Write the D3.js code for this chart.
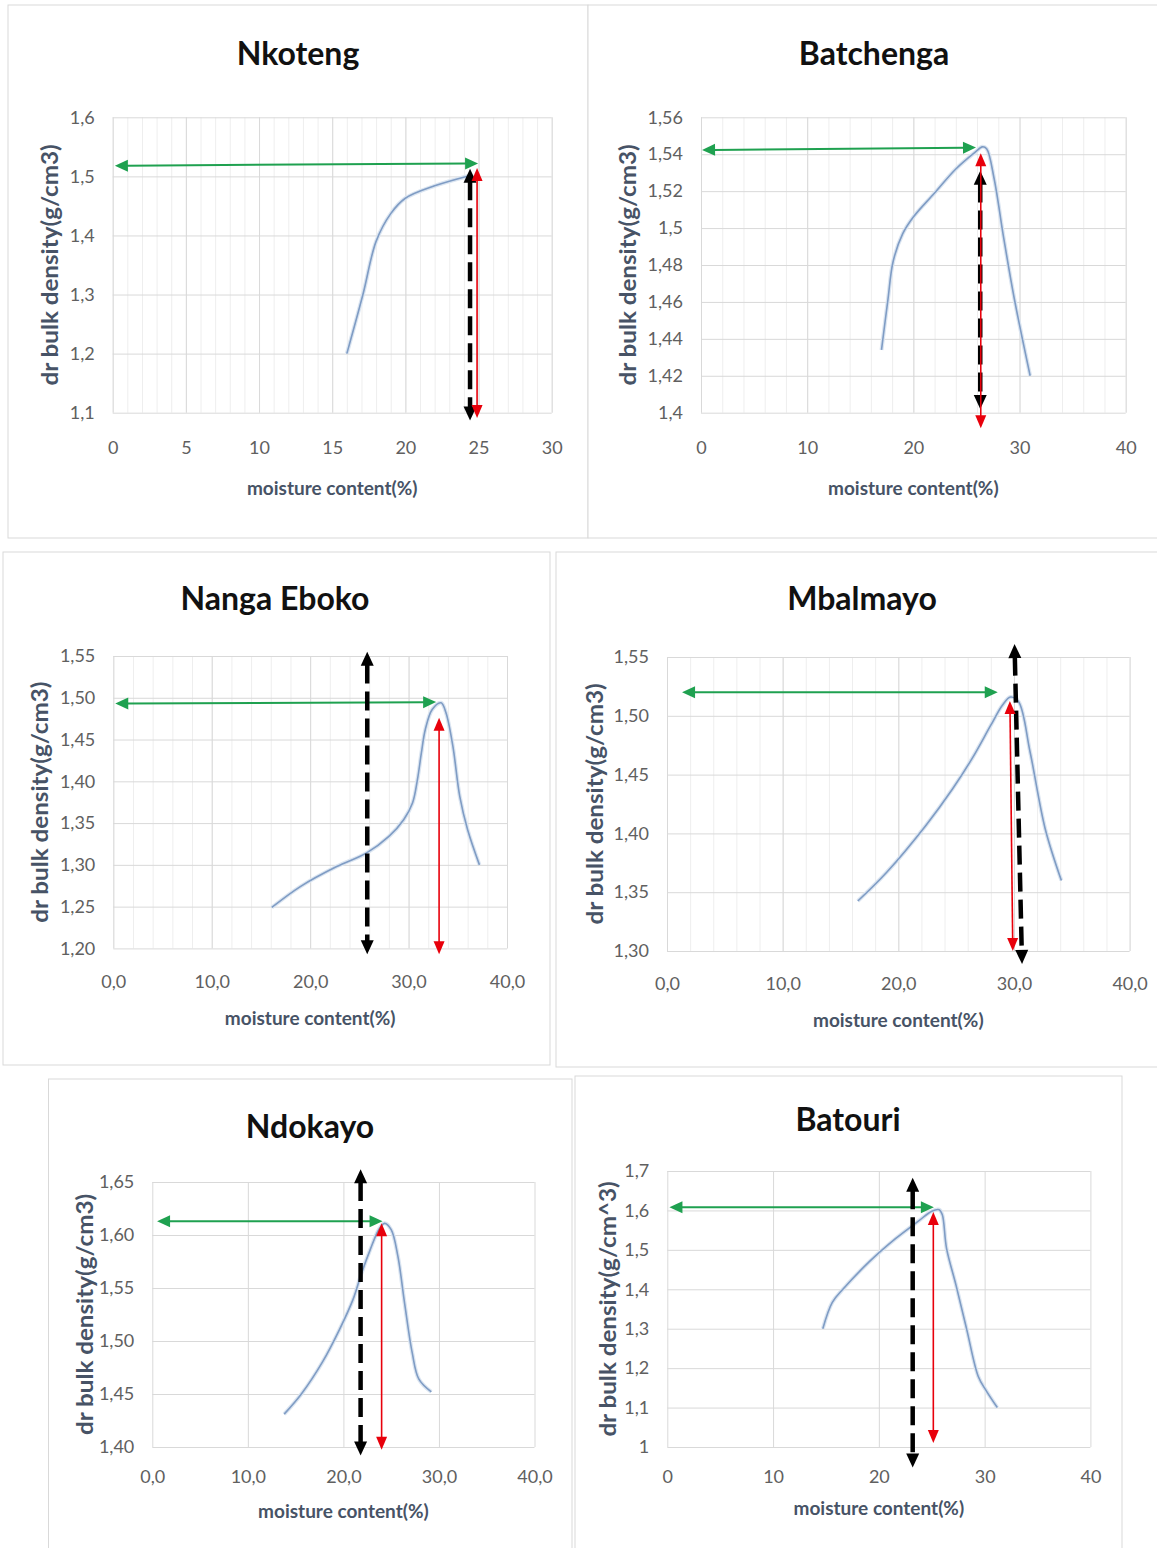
<!DOCTYPE html>
<html>
<head>
<meta charset="utf-8">
<title>Compaction curves</title>
<script src="https://cdn.jsdelivr.net/npm/d3@7"></script>
<style>
  body { margin: 0; background: #fff; }
  text { font-family: Lato, "Open Sans", sans-serif; }
</style>
</head>
<body>
<script>
// ---- data ----
var titles = ["Nkoteng", "Batchenga", "Nanga Eboko", "Mbalmayo", "Ndokayo", "Batouri"];
var xTitle = "moisture content(%)";
var yTitles = ["dr bulk density(g/cm3)", "dr bulk density(g/cm3)", "dr bulk density(g/cm3)",
               "dr bulk density(g/cm3)", "dr bulk density(g/cm3)", "dr bulk density(g/cm^3)"];

var nkotengMoisture = [16, 17.1, 18, 19, 20, 22, 24.5];
var nkotengDensity  = [1.2, 1.30, 1.39, 1.437, 1.463, 1.484, 1.502];

var batchengaMoisture = [17, 17.6, 18.1, 19, 20, 22, 24, 25.8, 26.5, 26.9, 27.6, 28.5, 29.5, 31];
var batchengaDensity  = [1.434, 1.461, 1.482, 1.497, 1.506, 1.519, 1.532, 1.541, 1.544, 1.543, 1.527, 1.495, 1.462, 1.42];

var ngaMoisture = [16.1, 19, 22.7, 25.7, 28, 29.5, 30.4, 30.9, 31.3, 31.7, 32.4, 33.3, 33.8, 34.5, 35.2, 36, 37.2];
var ngaDensity  = [1.249, 1.274, 1.298, 1.314, 1.334, 1.354, 1.374, 1.402, 1.434, 1.462, 1.486, 1.494, 1.482, 1.442, 1.382, 1.342, 1.30];

var mbalmayoMoisture = [16.5, 19, 22.4, 24.7, 26.4, 28, 29, 29.7, 30.4, 31.4, 32.7, 34.1];
var mbalmayoDensity  = [1.3425, 1.367, 1.407, 1.438, 1.464, 1.492, 1.509, 1.516, 1.512, 1.469, 1.404, 1.36];

var ndokayoMoisture = [13.8, 15.6, 17.8, 19.6, 21, 21.9, 22.8, 23.7, 24.3, 25, 25.7, 26.4, 27.2, 27.9, 29.2];
var ndokayoDensity  = [1.431, 1.45, 1.48, 1.511, 1.539, 1.564, 1.586, 1.605, 1.611, 1.605, 1.58, 1.536, 1.489, 1.464, 1.452];

var batouriMoisture = [14.7, 15.6, 16.6, 19.1, 21.6, 23.7, 25, 25.7, 26, 26.4, 27.3, 28.3, 29.4, 30.1, 31.2];
var batouriDensity  = [1.30, 1.367, 1.40, 1.47, 1.529, 1.572, 1.598, 1.602, 1.589, 1.504, 1.41, 1.299, 1.179, 1.145, 1.10];

var xTicksNkoteng   = ["0", "5", "10", "15", "20", "25", "30"];
var yTicksNkoteng   = ["1,1", "1,2", "1,3", "1,4", "1,5", "1,6"];
var xTicksBatchenga = ["0", "10", "20", "30", "40"];
var yTicksBatchenga = ["1,4", "1,42", "1,44", "1,46", "1,48", "1,5", "1,52", "1,54", "1,56"];
var xTicksNga       = ["0,0", "10,0", "20,0", "30,0", "40,0"];
var yTicksNga       = ["1,20", "1,25", "1,30", "1,35", "1,40", "1,45", "1,50", "1,55"];
var xTicksMbalmayo  = ["0,0", "10,0", "20,0", "30,0", "40,0"];
var yTicksMbalmayo  = ["1,30", "1,35", "1,40", "1,45", "1,50", "1,55"];
var xTicksNdokayo   = ["0,0", "10,0", "20,0", "30,0", "40,0"];
var yTicksNdokayo   = ["1,40", "1,45", "1,50", "1,55", "1,60", "1,65"];
var xTicksBatouri   = ["0", "10", "20", "30", "40"];
var yTicksBatouri   = ["1", "1,1", "1,2", "1,3", "1,4", "1,5", "1,6", "1,7"];

// arrows: [x1, y1, x2, y2] in data units, heads at both ends
var greenArrows = [[0.15, 1.518, 24.97, 1.522], [0.1, 1.5423, 25.9, 1.5436], [0.2, 1.493, 32.8, 1.4948],
                   [1.3, 1.520, 28.6, 1.520], [0.5, 1.613, 24.1, 1.613], [0.2, 1.608, 25.2, 1.608]];
var blackArrows = [[24.42, 1.513, 24.42, 1.087], [26.3, 1.531, 26.3, 1.402], [25.8, 1.555, 25.8, 1.193],
                   [30.05, 1.561, 30.7, 1.289], [21.8, 1.662, 21.8, 1.392], [23.2, 1.683, 23.2, 0.948]];
var redArrows   = [[24.9, 1.514, 24.9, 1.091], [26.35, 1.5405, 26.35, 1.3916], [33.1, 1.476, 33.1, 1.193],
                   [29.65, 1.5126, 29.9, 1.300], [24.0, 1.611, 24.0, 1.3975], [25.15, 1.596, 25.15, 1.010]];

// ---- layout ----
var width = 1157, height = 1548;
var layout = [
  { mc: nkotengMoisture, dd: nkotengDensity, xt: xTicksNkoteng, yt: yTicksNkoteng, minor: 1,
    frame: [8, 5, 588, 538], plot: [112.7, 117.3, 551.7, 412.7], tx: 298, ty: 65, xGap: 29, xTy: 495, yTx: 51 },
  { mc: batchengaMoisture, dd: batchengaDensity, xt: xTicksBatchenga, yt: yTicksBatchenga, minor: 2,
    frame: [588, 5, 1170, 538], plot: [701, 117.3, 1125.7, 412.7], tx: 874, ty: 65, xGap: 29, xTy: 495, yTx: 629 },
  { mc: ngaMoisture, dd: ngaDensity, xt: xTicksNga, yt: yTicksNga, minor: 2,
    frame: [3, 552, 550, 1065], plot: [113.3, 656, 507, 948.4], tx: 275, ty: 610, xGap: 27, xTy: 1025, yTx: 41 },
  { mc: mbalmayoMoisture, dd: mbalmayoDensity, xt: xTicksMbalmayo, yt: yTicksMbalmayo, minor: 2,
    frame: [556, 552, 1170, 1067], plot: [667, 657, 1129.6, 951], tx: 862, ty: 610, xGap: 26, xTy: 1027, yTx: 596 },
  { mc: ndokayoMoisture, dd: ndokayoDensity, xt: xTicksNdokayo, yt: yTicksNdokayo, minor: 0,
    frame: [48.5, 1079, 572, 1560], plot: [152.3, 1182, 534.5, 1447], tx: 310, ty: 1138, xGap: 23, xTy: 1518, yTx: 86 },
  { mc: batouriMoisture, dd: batouriDensity, xt: xTicksBatouri, yt: yTicksBatouri, minor: 0,
    frame: [575, 1076, 1122, 1560], plot: [667.3, 1171, 1090.4, 1447], tx: 848, ty: 1131, xGap: 23, xTy: 1515, yTx: 609 }
];

function num(s) { return +s.replace(",", "."); }

var svg = d3.select("body").append("svg")
            .attr("width", width)
            .attr("height", height);

svg.append("rect").attr("width", width).attr("height", height).attr("fill", "#fff");

function arrow(g, p1, p2, color, sw, dash, hl, hw) {
  var dx = p2[0] - p1[0], dy = p2[1] - p1[1];
  var L = Math.sqrt(dx * dx + dy * dy), ux = dx / L, uy = dy / L;
  var px = -uy, py = ux;
  g.append("line")
    .attr("x1", p1[0] + ux * hl * 0.9).attr("y1", p1[1] + uy * hl * 0.9)
    .attr("x2", p2[0] - ux * hl * 0.9).attr("y2", p2[1] - uy * hl * 0.9)
    .attr("stroke", color).attr("stroke-width", sw)
    .attr("stroke-dasharray", dash || null);
  [[p2, 1], [p1, -1]].forEach(function(e) {
    var t = e[0], s = e[1];
    var bx = t[0] - s * ux * hl, by = t[1] - s * uy * hl;
    g.append("path")
      .attr("d", "M" + t[0] + "," + t[1] +
                 "L" + (bx + px * hw / 2) + "," + (by + py * hw / 2) +
                 "L" + (bx - px * hw / 2) + "," + (by - py * hw / 2) + "Z")
      .attr("fill", color);
  });
}

layout.forEach(function(p, i) {
  var g = svg.append("g");
  var f = p.frame;
  g.append("rect")
    .attr("x", f[0]).attr("y", f[1])
    .attr("width", f[2] - f[0]).attr("height", f[3] - f[1])
    .attr("fill", "#fff").attr("stroke", "#d9d9d9").attr("stroke-width", 1);

  var xv = p.xt.map(num), yv = p.yt.map(num);
  var x = d3.scaleLinear().domain([xv[0], xv[xv.length - 1]]).range([p.plot[0], p.plot[2]]);
  var y = d3.scaleLinear().domain([yv[0], yv[yv.length - 1]]).range([p.plot[3], p.plot[1]]);
  var ph = p.plot[3] - p.plot[1], pw = p.plot[2] - p.plot[0];

  // minor vertical gridlines
  if (p.minor) {
    var mv = d3.range(xv[0], xv[xv.length - 1] + 1e-9, p.minor);
    var gm = g.append("g").attr("transform", "translate(0," + p.plot[3] + ")")
      .call(d3.axisBottom(x).tickValues(mv).tickSize(-ph).tickFormat(""));
    gm.select(".domain").remove();
    gm.selectAll("line").attr("stroke", "#eeeeee");
  }
  // major gridlines
  var gx = g.append("g").attr("transform", "translate(0," + p.plot[3] + ")")
    .call(d3.axisBottom(x).tickValues(xv).tickSize(-ph).tickFormat(""));
  gx.select(".domain").remove();
  gx.selectAll("line").attr("stroke", "#d9d9d9");
  var gy = g.append("g").attr("transform", "translate(" + p.plot[0] + ",0)")
    .call(d3.axisLeft(y).tickValues(yv).tickSize(-pw).tickFormat(""));
  gy.select(".domain").remove();
  gy.selectAll("line").attr("stroke", "#d9d9d9");

  // tick labels
  var lx = g.append("g").attr("transform", "translate(0," + p.plot[3] + ")")
    .call(d3.axisBottom(x).tickValues(xv).tickSize(0).tickPadding(p.xGap)
          .tickFormat(function(d, k) { return p.xt[k]; }));
  lx.select(".domain").remove();
  lx.selectAll("text").attr("font-family", "Lato, sans-serif").attr("font-size", 18).attr("fill", "#606060");
  var ly = g.append("g").attr("transform", "translate(" + p.plot[0] + ",0)")
    .call(d3.axisLeft(y).tickValues(yv).tickSize(0).tickPadding(18)
          .tickFormat(function(d, k) { return p.yt[k]; }));
  ly.select(".domain").remove();
  ly.selectAll("text").attr("font-family", "Lato, sans-serif").attr("font-size", 18).attr("fill", "#606060");

  // titles
  g.append("text").attr("x", p.tx).attr("y", p.ty).attr("text-anchor", "middle")
    .attr("font-size", 32).attr("font-weight", "bold").attr("fill", "#111")
    .text(titles[i]);
  g.append("text").attr("x", (p.plot[0] + p.plot[2]) / 2).attr("y", p.xTy).attr("text-anchor", "middle")
    .attr("font-size", 19).attr("font-weight", "bold").attr("fill", "#475366")
    .text(xTitle);
  g.append("text").attr("text-anchor", "middle")
    .attr("transform", "translate(" + (p.yTx + 7) + "," + ((p.plot[1] + p.plot[3]) / 2) + ") rotate(-90) scale(1.1,1)")
    .attr("font-size", 22).attr("font-weight", "bold").attr("fill", "#475366")
    .text(yTitles[i]);

  // curve
  var pts = p.mc.map(function(m, k) { return [m, p.dd[k]]; });
  var line = d3.line().x(function(d) { return x(d[0]); }).y(function(d) { return y(d[1]); })
    .curve(d3.curveCatmullRom.alpha(0.5));
  g.append("path").attr("d", line(pts)).attr("fill", "none")
    .attr("stroke", "#dbe5f1").attr("stroke-width", 4);
  g.append("path").attr("d", line(pts)).attr("fill", "none")
    .attr("stroke", "#7f9cc4").attr("stroke-width", 1.6);

  // arrows
  var ga = greenArrows[i], ba = blackArrows[i], ra = redArrows[i];
  arrow(g, [x(ga[0]), y(ga[1])], [x(ga[2]), y(ga[3])], "#1fa150", 2, null, 13, 12);
  arrow(g, [x(ba[0]), y(ba[1])], [x(ba[2]), y(ba[3])], "#000", 4.5, "19,8", 14, 13);
  arrow(g, [x(ra[0]), y(ra[1])], [x(ra[2]), y(ra[3])], "#e8000b", 1.6, null, 13, 11);
});
</script>
</body>
</html>
